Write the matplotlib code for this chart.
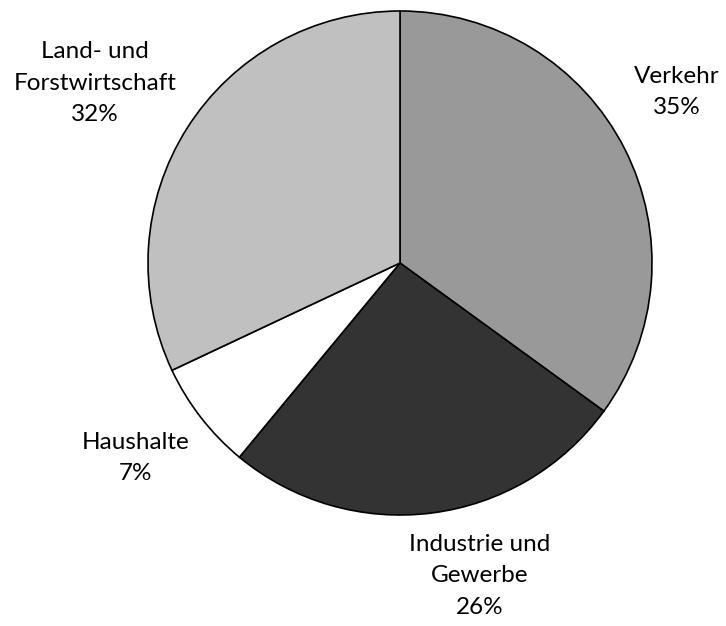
import matplotlib
matplotlib.use('Agg')
import matplotlib.pyplot as plt

sectors = ['Verkehr', 'Industrie und\nGewerbe', 'Haushalte', 'Land- und\nForstwirtschaft']
shares = [35, 26, 7, 32]
colors = ['#999999', '#333333', '#ffffff', '#c0c0c0']

# label centres in pie units (radius 1)
label_pos = [(1.10, 0.68), (0.317, -1.242), (-1.05, -0.774), (-1.21, 0.714)]

plt.rcParams['font.family'] = ['Lato', 'DejaVu Sans']

fig = plt.figure(figsize=(7.26, 6.26), dpi=100)
ax = fig.add_axes([148 / 726, 111 / 626, 504 / 726, 504 / 626])

ax.pie(shares, colors=colors, startangle=90, counterclock=False,
       wedgeprops={'edgecolor': 'black', 'linewidth': 1.2})

for name, val, (x, y) in zip(sectors, shares, label_pos):
    ax.text(x, y, f'{name}\n{val}%', ha='center', va='center',
            fontsize=17.5, linespacing=1.6)

ax.set_xlim(-1, 1)
ax.set_ylim(-1, 1)
ax.set_aspect('equal')
ax.axis('off')

fig.savefig('out.png', dpi=100)
